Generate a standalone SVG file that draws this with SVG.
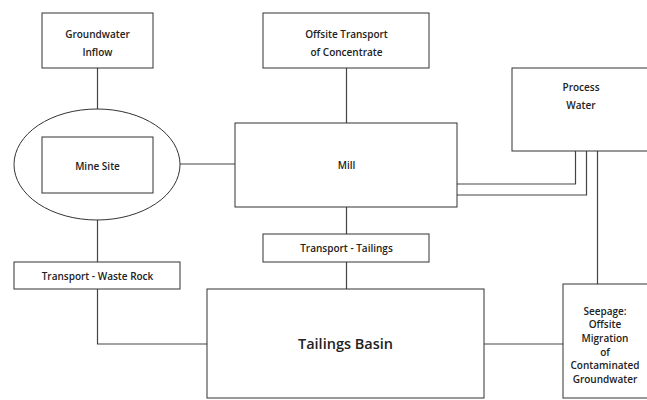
<svg xmlns="http://www.w3.org/2000/svg" width="647" height="400" viewBox="0 0 647 400">
<style>
.box{fill:#fff;stroke:#333;stroke-width:1}
.ln{fill:none;stroke:#444;stroke-width:1.2}
text{font-family:"Open Sans","Noto Sans",sans-serif;font-weight:600;font-size:10px;fill:#222;text-anchor:middle}
.big{font-size:14.5px}
</style>
<rect width="647" height="400" fill="#fff"/>
<g id="connectors">
<path class="ln" d="M97.5 68V109"/>
<path class="ln" d="M180 164H235"/>
<path class="ln" d="M346.5 68V123"/>
<path class="ln" d="M97.5 220V262"/>
<path class="ln" d="M346.5 207V234"/>
<path class="ln" d="M346.5 262V289"/>
<path class="ln" d="M97.5 289V344H207"/>
<path class="ln" d="M484 344H563"/>
<path class="ln" d="M457 184H575.5V151"/>
<path class="ln" d="M457 195H586.5V151"/>
<path class="ln" d="M597.5 151V284"/>
</g>
<g id="groundwater-inflow">
<rect class="box" x="42" y="13" width="111" height="55"/>
<text x="97.5" y="38">Groundwater</text>
<text x="97.5" y="56">Inflow</text>
</g>
<g id="mine-site">
<ellipse class="box" cx="97" cy="164.5" rx="83" ry="55.5"/>
<rect class="box" x="42" y="137" width="111" height="56"/>
<text x="97.5" y="170">Mine Site</text>
</g>
<g id="offsite-transport">
<rect class="box" x="263" y="13" width="166" height="55"/>
<text x="346.5" y="38">Offsite Transport</text>
<text x="346.5" y="56">of Concentrate</text>
</g>
<g id="mill">
<rect class="box" x="235" y="123" width="222" height="84"/>
<text x="346.5" y="169">Mill</text>
</g>
<g id="process-water">
<rect class="box" x="512" y="68" width="140" height="83"/>
<text x="581" y="91">Process</text>
<text x="581" y="109">Water</text>
</g>
<g id="transport-tailings">
<rect class="box" x="263" y="234" width="166" height="28"/>
<text x="346.5" y="252">Transport - Tailings</text>
</g>
<g id="transport-waste-rock">
<rect class="box" x="14" y="262" width="166" height="27"/>
<text x="97.5" y="280">Transport - Waste Rock</text>
</g>
<g id="tailings-basin">
<rect class="box" x="207" y="289" width="277" height="109"/>
<text class="big" x="345.5" y="349">Tailings Basin</text>
</g>
<g id="seepage">
<rect class="box" x="563" y="284" width="90" height="114"/>
<text x="605" y="315">Seepage:</text>
<text x="605" y="328">Offsite</text>
<text x="605" y="342">Migration</text>
<text x="605" y="356">of</text>
<text x="605" y="369">Contaminated</text>
<text x="605" y="383">Groundwater</text>
</g>
</svg>
